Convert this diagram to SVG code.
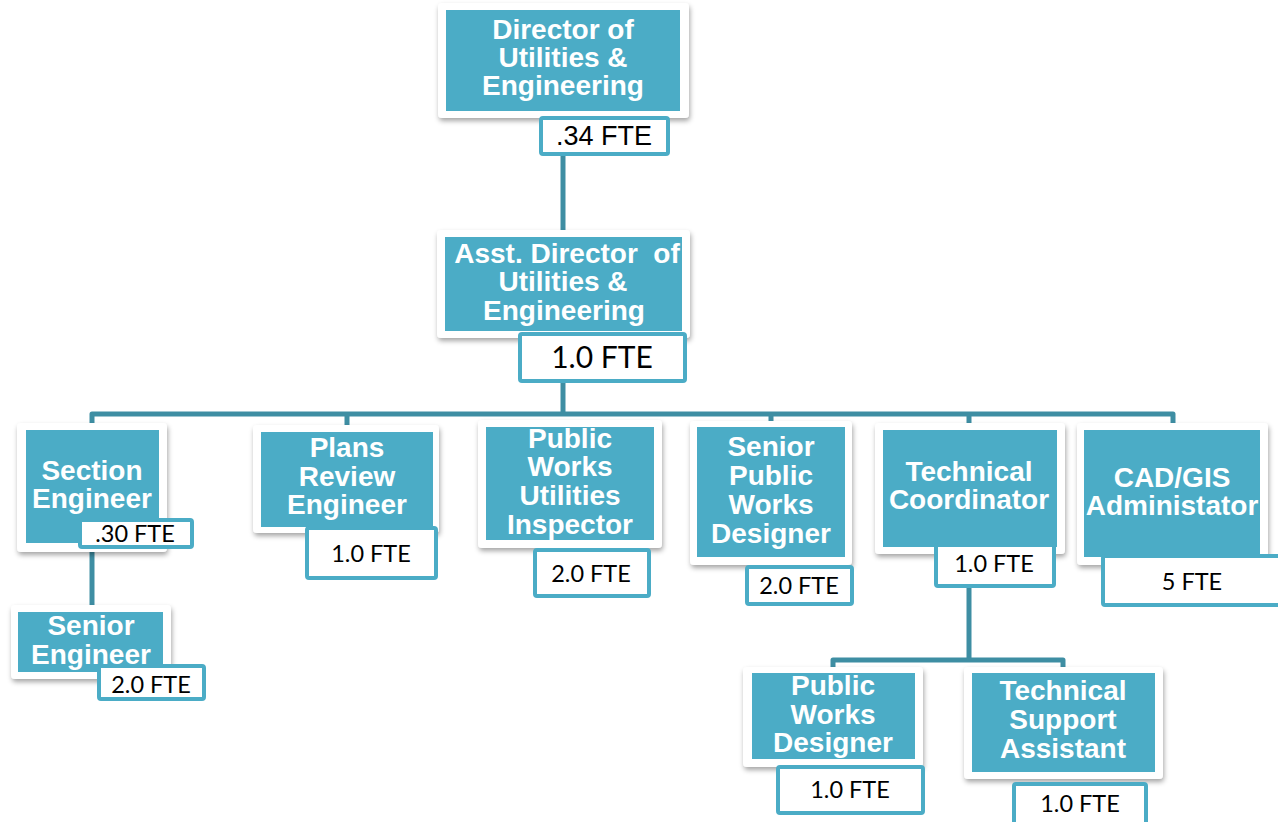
<svg xmlns="http://www.w3.org/2000/svg" width="1278" height="822" viewBox="0 0 1278 822">
<defs>
<filter id="sh" x="-10%" y="-10%" width="125%" height="130%">
<feDropShadow dx="1" dy="3" stdDeviation="2.5" flood-color="#000" flood-opacity="0.35"/>
</filter>
<style>
.card{fill:#fff;filter:url(#sh)}
.fill{fill:#4BACC6}
.t{font-family:"Liberation Sans",Arial,sans-serif;font-weight:bold;font-size:28px;fill:#fff;text-anchor:middle;white-space:pre}
.fte{fill:#fff;stroke:#4BACC6;stroke-width:4}
.ft{font-family:Lato,"Liberation Sans",sans-serif;font-size:23.5px;fill:#000;text-anchor:middle}
.conn{stroke:#3E8EA3;stroke-width:5;fill:none;stroke-linejoin:round}
</style>
</defs>
<rect width="1278" height="822" fill="#fff"/>
<g id="connectors">
<path class="conn" d="M563 155V232"/>
<path class="conn" d="M563 383V414"/>
<path class="conn" d="M92 424V414H1173V424"/>
<path class="conn" d="M347 414V428M771 414V424M969 414V426"/>
<path class="conn" d="M92 548V607"/>
<path class="conn" d="M969 587V660M833 668V660H1063V668"/>
</g>
<g id="director">
<rect class="card" x="438" y="3" width="251" height="115" rx="4"/>
<rect class="fill" x="446" y="10" width="234" height="101"/>
<text class="t" x="563" y="39">Director of</text>
<text class="t" x="563" y="67">Utilities &amp;</text>
<text class="t" x="563" y="95">Engineering</text>
<rect class="fte" x="541" y="118" width="127" height="36" rx="2"/>
<text x="604" y="145" style="font-family:'Liberation Sans',Arial,sans-serif;font-size:27px;text-anchor:middle">.34 FTE</text>
</g>
<g id="asst-director">
<rect class="card" x="437" y="230" width="253" height="108" rx="4"/>
<rect class="fill" x="445" y="237" width="237" height="94"/>
<text class="t" x="567" y="263">Asst. Director  of</text>
<text class="t" x="563" y="291">Utilities &amp;</text>
<text class="t" x="564" y="320">Engineering</text>
<rect class="fte" x="520" y="334" width="165" height="47" rx="2"/>
<text class="ft" x="602" y="368" style="font-size:30px">1.0 FTE</text>
</g>
<g id="section-engineer">
<rect class="card" x="17" y="423" width="150" height="129" rx="4"/>
<rect class="fill" x="26" y="430" width="133" height="113"/>
<text class="t" x="92" y="480">Section</text>
<text class="t" x="92" y="508">Engineer</text>
<rect class="fte" x="80" y="520" width="112" height="27" rx="2"/>
<text class="ft" x="135" y="542">.30 FTE</text>
</g>
<g id="senior-engineer">
<rect class="card" x="11" y="605" width="160" height="74" rx="4"/>
<rect class="fill" x="18" y="612" width="145" height="60"/>
<text class="t" x="91" y="635">Senior</text>
<text class="t" x="91" y="664">Engineer</text>
<rect class="fte" x="99" y="666" width="105" height="33" rx="2"/>
<text class="ft" x="151" y="693">2.0 FTE</text>
</g>
<g id="plans-review">
<rect class="card" x="253" y="425" width="186" height="108" rx="4"/>
<rect class="fill" x="261" y="432" width="172" height="95"/>
<text class="t" x="347" y="457">Plans</text>
<text class="t" x="347" y="486">Review</text>
<text class="t" x="347" y="514">Engineer</text>
<rect class="fte" x="307" y="528" width="129" height="50" rx="2"/>
<text class="ft" x="371" y="562">1.0 FTE</text>
</g>
<g id="pw-inspector">
<rect class="card" x="478" y="420" width="184" height="128" rx="4"/>
<rect class="fill" x="486" y="427" width="168" height="113"/>
<text class="t" x="570" y="448">Public</text>
<text class="t" x="570" y="476">Works</text>
<text class="t" x="570" y="505">Utilities</text>
<text class="t" x="570" y="534">Inspector</text>
<rect class="fte" x="535" y="550" width="114" height="46" rx="2"/>
<text class="ft" x="591" y="582">2.0 FTE</text>
</g>
<g id="senior-pw-designer">
<rect class="card" x="690" y="421" width="162" height="144" rx="4"/>
<rect class="fill" x="697" y="427" width="148" height="130"/>
<text class="t" x="771" y="456">Senior</text>
<text class="t" x="771" y="485">Public</text>
<text class="t" x="771" y="514">Works</text>
<text class="t" x="771" y="543">Designer</text>
<rect class="fte" x="747" y="567" width="105" height="37" rx="2"/>
<text class="ft" x="799" y="594">2.0 FTE</text>
</g>
<g id="technical-coordinator">
<rect class="card" x="875" y="423" width="190" height="131" rx="4"/>
<rect class="fill" x="883" y="430" width="174" height="117"/>
<text class="t" x="969" y="481">Technical</text>
<text class="t" x="969" y="509">Coordinator</text>
<rect class="fte" x="936" y="545" width="118" height="41" rx="2"/>
<text class="ft" x="994" y="572">1.0 FTE</text>
</g>
<g id="cad-gis">
<rect class="card" x="1077" y="423" width="191" height="142" rx="4"/>
<rect class="fill" x="1084" y="430" width="176" height="127"/>
<text class="t" x="1172" y="487">CAD/GIS</text>
<text class="t" x="1172" y="515">Administator</text>
<rect class="fte" x="1103" y="556" width="180" height="49" rx="2"/>
<text class="ft" x="1192" y="590">5 FTE</text>
</g>
<g id="pw-designer">
<rect class="card" x="743" y="667" width="180" height="100" rx="4"/>
<rect class="fill" x="752" y="673" width="163" height="86"/>
<text class="t" x="833" y="695">Public</text>
<text class="t" x="833" y="724">Works</text>
<text class="t" x="833" y="752">Designer</text>
<rect class="fte" x="778" y="767" width="145" height="46" rx="2"/>
<text class="ft" x="850" y="798">1.0 FTE</text>
</g>
<g id="tech-support">
<rect class="card" x="964" y="667" width="199" height="112" rx="4"/>
<rect class="fill" x="972" y="673" width="183" height="99"/>
<text class="t" x="1063" y="700">Technical</text>
<text class="t" x="1063" y="729">Support</text>
<text class="t" x="1063" y="758">Assistant</text>
<rect class="fte" x="1014" y="784" width="132" height="44" rx="2"/>
<text class="ft" x="1080" y="812">1.0 FTE</text>
</g>
</svg>
